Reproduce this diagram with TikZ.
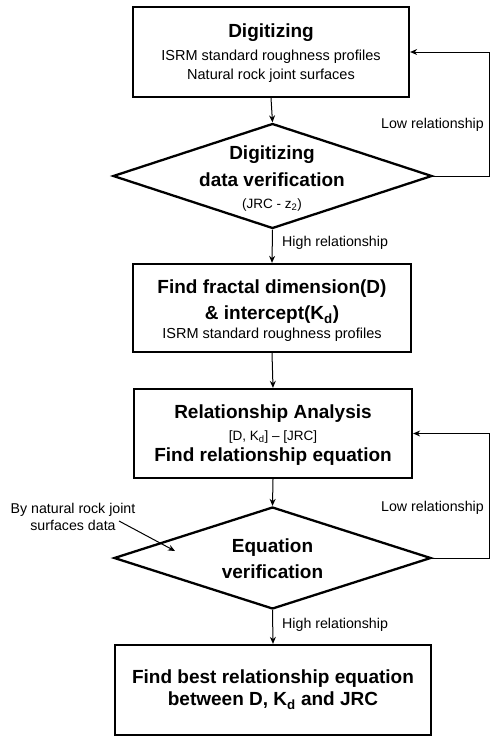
\documentclass[tikz,border=0pt]{standalone}
\usepackage{fontspec}
\setmainfont{Liberation Sans}
\usetikzlibrary{shapes.geometric,arrows.meta}
\tikzset{
  boxnode/.style={draw, line width=2.3pt, inner sep=0pt},
  dianode/.style={draw, diamond, line width=2.3pt, inner sep=0pt},
  conn/.style={line width=1pt, -{Stealth[length=7pt,width=6pt]}},
  bt/.style={font=\fontsize{19}{22}\selectfont\bfseries, inner sep=0pt},
  rt/.style={font=\fontsize{14.5}{17}\selectfont, inner sep=0pt},
  st/.style={font=\fontsize{13.5}{16}\selectfont, inner sep=0pt},
  lbl/.style={font=\fontsize{14.2}{17}\selectfont, inner sep=0pt},
}
\begin{document}
\begin{tikzpicture}[x=1pt,y=-1pt]
\useasboundingbox (0,0) rectangle (490,737);
\coordinate (rt) at (489,0);

% boxes and diamonds
\node[boxnode, minimum width=276pt, minimum height=90pt] (b1) at (271,52) {};
\node[dianode, minimum width=319pt, minimum height=105pt] (d1) at (272.5,176) {};
\node[boxnode, minimum width=278pt, minimum height=88pt] (b2) at (272,308) {};
\node[boxnode, minimum width=278pt, minimum height=89pt] (b3) at (273,433.5) {};
\node[dianode, minimum width=317pt, minimum height=102pt] (d2) at (272.5,558) {};
\node[boxnode, minimum width=316pt, minimum height=90pt] (b4) at (273,690) {};

% texts
\node[bt] (t1a) at (271,33) {Digitizing};
\node[rt] (t1b) at (271,57) {ISRM standard roughness profiles};
\node[rt] (t1c) at (271,76) {Natural rock joint surfaces};

\node[bt] (t2a) at (272,155) {Digitizing};
\node[bt] (t2b) at (272,180) {data verification};
\node[st] (t2c) at (272,205) {(JRC - z\textsubscript{2})};

\node[bt] (t3a) at (272,289) {Find fractal dimension(D)};
\node[bt] (t3b) at (272,315) {\& intercept(K\textsubscript{d})};
\node[rt] (t3c) at (272,335) {ISRM standard roughness profiles};

\node[bt] (t4a) at (273,414) {Relationship Analysis};
\node[st] (t4b) at (273,437) {[D, K\textsubscript{d}] -- [JRC]};
\node[bt] (t4c) at (273,457) {Find relationship equation};

\node[bt] (t5a) at (272.5,548) {Equation};
\node[bt] (t5b) at (272.5,572) {verification};

\node[bt] (t6a) at (273,679) {Find best relationship equation};
\node[bt] (t6b) at (273,701) {between D, K\textsubscript{d} and JRC};

% connectors
\draw[conn] (b1.south) -- (d1.north);
\draw[conn] (d1.south) -- (b2.north);
\draw[conn] (b2.south) -- (b3.north);
\draw[conn] (b3.south) -- (d2.north);
\draw[conn] (d2.south) -- (b4.north);

\draw[conn] (d1.east) -- (d1.east -| rt) |- (b1.east);
\draw[conn] (d2.east) -- (d2.east -| rt) |- (b3.east);

% labels
\node[lbl, anchor=west] (h1) at (282,243) {High relationship};
\node[lbl, anchor=west] (h2) at (282,625) {High relationship};
\node[lbl, anchor=east] (l1) at (484,125) {Low relationship};
\node[lbl, anchor=east] (l2) at (484,508) {Low relationship};

% annotation
\node[lbl, align=center] (note) at (73,517) {By natural rock joint\\surfaces data};
\coordinate (ns) at (119,521);
\coordinate (ne) at (175,551);
\draw[conn] (ns) -- (ne);
\end{tikzpicture}
\end{document}
